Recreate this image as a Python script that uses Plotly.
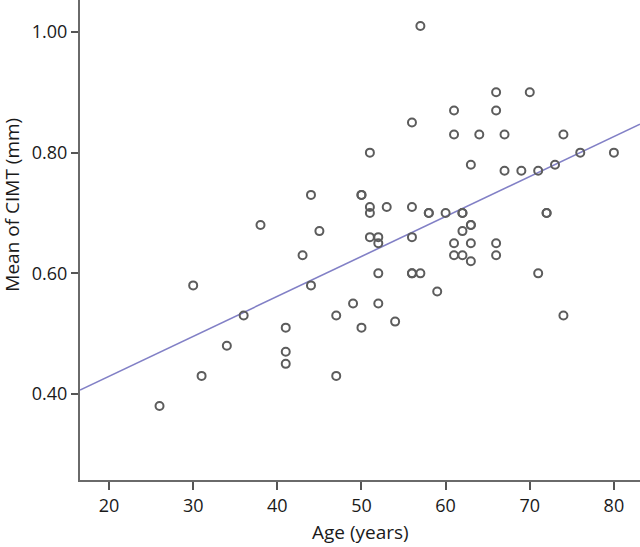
import plotly.graph_objects as go

age = [26, 30, 31, 34, 36, 38, 41, 41, 41, 43, 44, 44, 45, 47, 47, 49, 50, 50, 50,
       51, 51, 51, 51, 52, 52, 52, 52, 53, 54, 56, 56, 56, 56, 56, 57, 57,
       58, 58, 59, 60, 61, 61, 61, 61, 62, 62, 62, 62, 63, 63, 63, 63, 63,
       64, 66, 66, 66, 66, 67, 67, 69, 70, 71, 71, 72, 72, 73, 74, 74, 76, 80]
cimt = [0.38, 0.58, 0.43, 0.48, 0.53, 0.68, 0.51, 0.47, 0.45, 0.63, 0.73, 0.58, 0.67, 0.53, 0.43, 0.55, 0.73, 0.51, 0.73,
        0.80, 0.71, 0.70, 0.66, 0.66, 0.65, 0.60, 0.55, 0.71, 0.52, 0.85, 0.71, 0.66, 0.60, 0.60, 1.01, 0.60,
        0.70, 0.70, 0.57, 0.70, 0.87, 0.83, 0.65, 0.63, 0.70, 0.67, 0.63, 0.70, 0.78, 0.68, 0.65, 0.62, 0.68,
        0.83, 0.90, 0.87, 0.65, 0.63, 0.83, 0.77, 0.77, 0.90, 0.77, 0.60, 0.70, 0.70, 0.78, 0.83, 0.53, 0.80, 0.80]

fit_intercept = 0.297
fit_slope = 0.00662
x_range = [16.55, 83.1]
y_range = [0.2575, 1.053]
x_ticks = [20, 30, 40, 50, 60, 70, 80]
y_ticks = [0.40, 0.60, 0.80, 1.00]
y_tick_labels = ["0.40", "0.60", "0.80", "1.00"]

FONT = "Open Sans"
fig = go.Figure()
fig.add_trace(go.Scatter(
    x=x_range, y=[fit_intercept + fit_slope * v for v in x_range],
    mode="lines", line=dict(color="#8280c6", width=1.6), hoverinfo="skip"))
fig.add_trace(go.Scatter(
    x=age, y=cimt, mode="markers",
    marker=dict(symbol="circle-open", size=8, color="#5c5c5c", line=dict(width=2, color="#5c5c5c"))))

axis_common = dict(showgrid=False, zeroline=False, showline=True, linecolor="#6a6a6a", linewidth=2,
                   ticks="outside", tickwidth=2, tickcolor="#555555",
                   tickfont=dict(family=FONT, size=18, color="#1a1a1a"))
fig.update_xaxes(range=x_range, tickvals=x_ticks, ticklen=8, **axis_common)
fig.update_yaxes(range=y_range, tickvals=y_ticks, ticktext=y_tick_labels, ticklen=7, **axis_common)

fig.update_layout(
    width=640, height=547, showlegend=False,
    margin=dict(l=80, r=0, t=0, b=67, pad=0),
    paper_bgcolor="white", plot_bgcolor="white",
    annotations=[
        dict(text="Age (years)", xref="paper", yref="paper", x=0.5, y=-0.108,
             showarrow=False, xanchor="center", yanchor="middle",
             font=dict(family=FONT, size=19, color="#1a1a1a")),
        dict(text="Mean of CIMT (mm)", xref="paper", yref="paper", x=-0.122, y=0.573,
             textangle=-90, showarrow=False, xanchor="center", yanchor="middle",
             font=dict(family=FONT, size=19, color="#1a1a1a")),
    ],
)
fig.write_html("out.html", config={"displayModeBar": False},
               post_script="document.body.style.margin='0';document.body.style.overflow='hidden';")
